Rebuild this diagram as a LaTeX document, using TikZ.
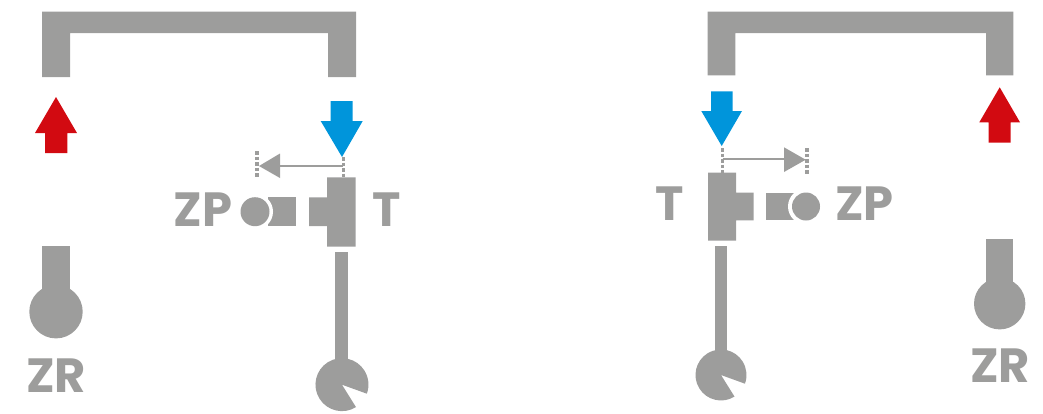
\documentclass[tikz,border=0pt]{standalone}
\usepackage{fontspec}
\setmainfont{Poppins}
\definecolor{gr}{HTML}{9D9D9C}
\definecolor{bl}{HTML}{0095DB}
\definecolor{rd}{HTML}{D20A11}
\tikzset{
 shp/.style={fill=gr,draw=none},
 lbl/.style={text=gr,font=\fontsize{48}{48}\selectfont\bfseries,inner sep=0pt,anchor=base},
 dots/.style={draw=gr,dash pattern=on 3.5pt off 2pt},
}
\begin{document}
\begin{tikzpicture}[x=1pt,y=-1pt]
\useasboundingbox (0,0) rectangle (1043,413);
% left
\fill[shp] (42,11.5) -- (356,11.5) -- (356,77) -- (328,77) -- (328,33) -- (70,33) -- (70,77) -- (42,77) -- cycle;
\fill[rd] (56,97) -- (77,133) -- (67.3,133) -- (67.3,153) -- (45,153) -- (45,133) -- (35,133) -- cycle;
\fill[shp] (42,246) rectangle (70.3,305);
\fill[shp] (56,311.7) circle (26.7pt);
\node[lbl] (zr1) at (56,392) {ZR};
\fill[bl] (330.7,101) -- (352.7,101) -- (352.7,121) -- (362.7,121) -- (342,157) -- (320.7,121) -- (330.7,121) -- cycle;
\draw[dots,line width=3pt] (343,157) -- (343,177);
\draw[dots,line width=4pt] (257,151) -- (257,178);
\draw[gr,line width=2pt] (343,166) -- (275,166);
\fill[shp] (259,166) -- (280,153.5) -- (280,178) -- cycle;
\fill[shp] (327,177.3) -- (355.7,177.3) -- (355.7,246.7) -- (327,246.7) -- (327,226) -- (309,226) -- (309,197.3) -- (327,197.3) -- cycle;
\fill[shp] (268,197.3) rectangle (295.7,226);
\fill[white] (255,211.7) circle (18pt);
\fill[shp] (255,211.7) circle (14.5pt);
\node[lbl] (zp1) at (203,226) {ZP};
\node[lbl] (t1) at (386.5,226) {T};
\fill[shp] (335,252) rectangle (348.3,365);
\fill[shp] (342,384.7) -- ++(14,22.4) arc[start angle=-58,end angle=-380,radius=26.5pt] -- cycle;
% right
\fill[shp] (707.7,11.5) -- (1013.3,11.5) -- (1013.3,75.3) -- (986,75.3) -- (986,33) -- (735.3,33) -- (735.3,75.3) -- (707.7,75.3) -- cycle;
\fill[rd] (999.7,87.3) -- (1020,122.3) -- (1010.7,122.3) -- (1010.7,142.7) -- (988.7,142.7) -- (988.7,122.3) -- (979.3,122.3) -- cycle;
\fill[shp] (986,239.3) rectangle (1013.3,295);
\fill[shp] (999.7,303.7) circle (25.7pt);
\node[lbl] (zr2) at (1000,382.7) {ZR};
\fill[bl] (711,91.3) -- (732.7,91.3) -- (732.7,111) -- (742,111) -- (721.7,146) -- (701.3,111) -- (711,111) -- cycle;
\draw[dots,line width=3pt] (722.7,148) -- (722.7,172.7);
\draw[dots,line width=4pt] (806.7,148) -- (806.7,174);
\draw[gr,line width=2pt] (722.7,159.3) -- (790,159.3);
\fill[shp] (805.7,159.7) -- (784,147.3) -- (784,172) -- cycle;
\fill[shp] (708,172.7) -- (736,172.7) -- (736,192.7) -- (753.7,192.7) -- (753.7,220.3) -- (736,220.3) -- (736,240.7) -- (708,240.7) -- cycle;
\fill[shp] (766.3,192.7) rectangle (795,220.3);
\fill[white] (806,206.5) circle (18pt);
\fill[shp] (806,206.5) circle (14pt);
\node[lbl] (zp2) at (864.5,220.3) {ZP};
\node[lbl] (t2) at (669.3,220.3) {T};
\fill[shp] (714.7,245.7) rectangle (727.3,355);
\fill[shp] (721,375) -- ++(13.5,21.6) arc[start angle=-58,end angle=-380,radius=25.5pt] -- cycle;
\end{tikzpicture}
\end{document}
